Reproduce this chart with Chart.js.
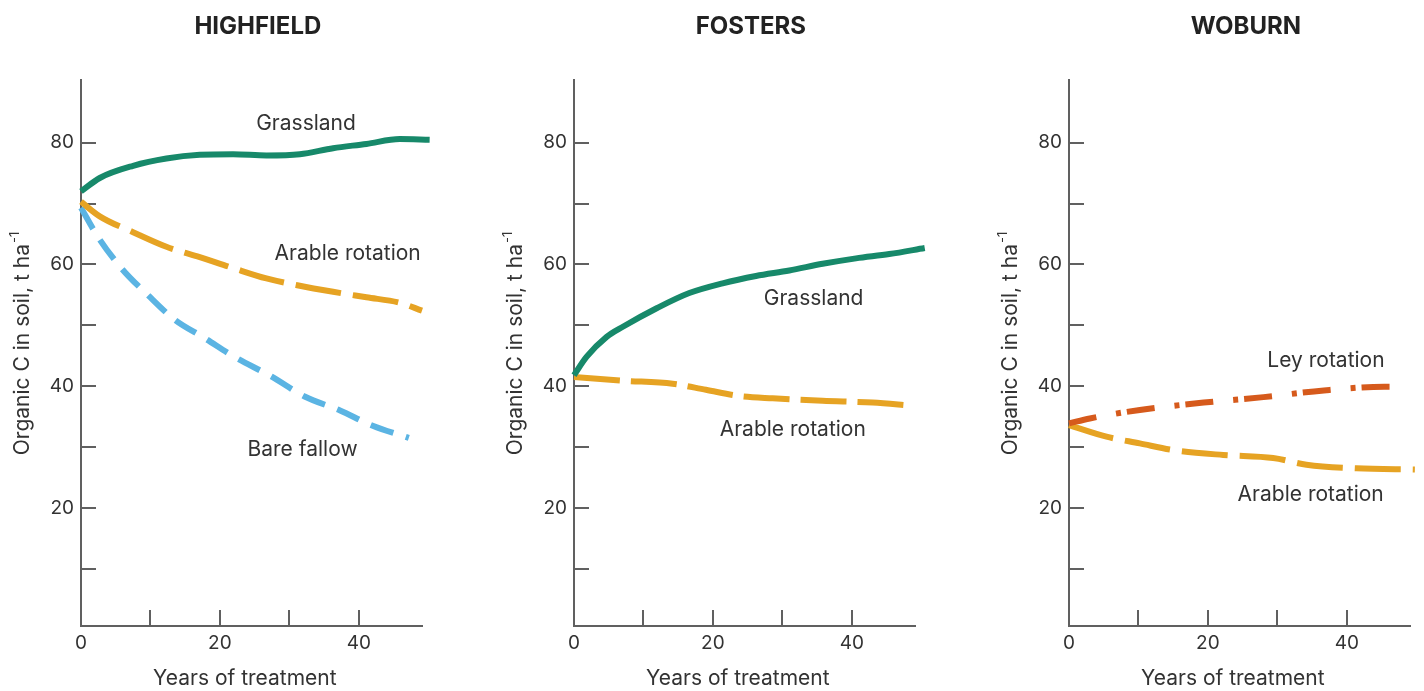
<!DOCTYPE html>
<html>
<head>
<meta charset="utf-8">
<script src="https://cdn.jsdelivr.net/npm/chart.js@4.4.1/dist/chart.umd.min.js"></script>
<style>
  html, body { margin: 0; padding: 0; background: #fff; overflow: hidden; width: 1424px; height: 691px; }
  .panel { position: absolute; top: 0; height: 691px; }
</style>
</head>
<body>
<div class="panel" style="left:0;width:460px"><canvas id="highfield"></canvas></div>
<div class="panel" style="left:493px;width:460px"><canvas id="fosters"></canvas></div>
<div class="panel" style="left:988px;width:436px"><canvas id="woburn"></canvas></div>
<script>
// values (years of treatment, organic C t/ha)
var highGrassYears = [0, 2.7, 7.5, 12.3, 17.1, 21.9, 26.7, 31.5, 36.3, 41.1, 45.9, 50.2];
var highGrassC     = [72.0, 74.2, 76.2, 77.4, 78.0, 78.1, 77.9, 78.1, 79.1, 79.8, 80.6, 80.5];
var highArableYears = [0, 2.7, 7.5, 12.3, 17.1, 21.9, 26.7, 31.5, 36.3, 41.1, 45.9, 49.1];
var highArableC     = [70.3, 67.9, 65.3, 62.9, 61.2, 59.4, 57.7, 56.5, 55.5, 54.6, 53.7, 52.4];
var highFallowYears = [0, 2.4, 5.8, 9.6, 13.5, 17.8, 22.1, 27.4, 32.2, 37.3, 42.0, 47.2];
var highFallowC     = [69.3, 64.6, 59.4, 55.0, 50.9, 47.9, 44.8, 41.6, 38.3, 36.0, 33.5, 31.5];

var fosGrassYears = [0, 1.8, 4.7, 7.1, 11.9, 16.6, 21.4, 26.2, 31.0, 35.8, 40.6, 45.4, 50.5];
var fosGrassC     = [41.8, 44.8, 48.1, 49.8, 52.8, 55.3, 56.9, 58.1, 59.0, 60.1, 61.0, 61.7, 62.7];
var fosArableYears = [0, 7.1, 14.2, 19.0, 23.8, 28.6, 35.8, 43.0, 48.5];
var fosArableC     = [41.5, 40.9, 40.4, 39.4, 38.4, 38.0, 37.6, 37.3, 36.8];

var wobLeyYears = [0, 3.0, 10.2, 19.4, 28.0, 36.7, 45.4, 48.0];
var wobLeyC     = [33.9, 34.7, 36.1, 37.3, 38.2, 39.3, 39.9, 39.9];
var wobArableYears = [0, 5.4, 10.2, 15.0, 22.2, 29.4, 34.2, 41.4, 49.8];
var wobArableC     = [33.6, 31.7, 30.6, 29.5, 28.7, 28.2, 27.1, 26.5, 26.3];

var xTicks = [0, 10, 20, 30, 40];
var xTickLabels = ['0', '', '20', '', '40'];
var yTicks = [10, 20, 30, 40, 50, 60, 70, 80];
var yTickLabels = ['', '20', '', '40', '', '60', '', '80'];

var GREEN = '#17896a', ORANGE = '#e6a323', BLUE = '#5bb4e3', LEY = '#d65a1c';
var AXIS = '#606060', TEXT = '#333333';
var FONT = 'Inter, Lato, sans-serif';

function pts(xs, ys) {
    return xs.map((x, i) => ({ x: x, y: ys[i] }));
}

function line(label, xs, ys, color, dash) {
    return {
        label: label,
        data: pts(xs, ys),
        borderColor: color,
        borderWidth: 6,
        borderDash: dash || [],
        pointRadius: 0,
        tension: 0.4,
        cubicInterpolationMode: 'monotone',
        clip: false
    };
}

// inward tick marks, drawn at the scale's own pixel positions
const tickMarks = {
    id: 'tickMarks',
    beforeDatasetsDraw(chart) {
        const { ctx, chartArea: a, scales: { x, y } } = chart;
        ctx.save();
        ctx.strokeStyle = AXIS;
        ctx.lineWidth = 2;
        ctx.beginPath();
        yTicks.forEach(v => {
            const p = Math.round(y.getPixelForValue(v));
            ctx.moveTo(a.left, p); ctx.lineTo(a.left + 15, p);
        });
        xTicks.filter(v => v > 0).forEach(v => {
            const p = Math.round(x.getPixelForValue(v));
            ctx.moveTo(p, a.bottom); ctx.lineTo(p, a.bottom - 16);
        });
        ctx.stroke();
        ctx.restore();
    }
};

// panel title, axis titles and curve labels
const panelText = {
    id: 'panelText',
    afterDraw(chart, args, opts) {
        const { ctx, chartArea: a, scales: { x, y } } = chart;
        const mid = (a.left + a.right) / 2;
        ctx.save();
        ctx.fillStyle = TEXT;
        ctx.textAlign = 'center';
        ctx.textBaseline = 'middle';

        ctx.font = 'bold 24px ' + FONT;
        ctx.fillStyle = '#222';
        ctx.fillText(opts.title, mid + 6, 27);
        ctx.fillStyle = TEXT;

        ctx.font = '21px ' + FONT;
        ctx.textBaseline = 'alphabetic';
        ctx.fillText('Years of treatment', mid - 7, 685);
        ctx.textBaseline = 'middle';

        // rotated y title with superscript
        ctx.save();
        ctx.translate(a.left - 58, 344);
        ctx.rotate(-Math.PI / 2);
        const main = 'Organic C in soil, t ha';
        ctx.font = '21px ' + FONT;
        const w1 = ctx.measureText(main).width;
        ctx.font = '13px ' + FONT;
        const w2 = ctx.measureText('-1').width;
        const start = -(w1 + w2) / 2;
        ctx.textAlign = 'left';
        ctx.font = '21px ' + FONT;
        ctx.fillText(main, start, 0);
        ctx.font = '13px ' + FONT;
        ctx.fillText('-1', start + w1 + 1, -8);
        ctx.restore();

        ctx.font = '21px ' + FONT;
        opts.notes.forEach(n => {
            ctx.fillText(n.text, x.getPixelForValue(n.x), y.getPixelForValue(n.y));
        });
        ctx.restore();
    }
};

function makePanel(id, title, datasets, notes, rightPad) {
    return new Chart(document.getElementById(id), {
        type: 'line',
        data: { datasets: datasets },
        plugins: [tickMarks, panelText],
        options: {
            responsive: true,
            maintainAspectRatio: false,
            animation: false,
            layout: { padding: { top: 80, right: rightPad, left: 0, bottom: 0 } },
            plugins: {
                legend: { display: false },
                tooltip: { enabled: false },
                panelText: { title: title, notes: notes }
            },
            scales: {
                x: {
                    type: 'linear',
                    min: 0,
                    max: 49.2,
                    afterFit: s => { s.height = 65; },
                    afterBuildTicks: s => { s.ticks = xTicks.map(v => ({ value: v })); },
                    grid: { display: true, drawOnChartArea: false, drawTicks: false },
                    border: { color: AXIS, width: 2 },
                    ticks: {
                        color: TEXT,
                        padding: 6,
                        font: { family: FONT, size: 19 },
                        maxRotation: 0,
                        autoSkip: false,
                        callback: (v, i) => xTickLabels[i]
                    }
                },
                y: {
                    type: 'linear',
                    min: 0.6,
                    max: 90.3,
                    afterFit: s => { s.width = 81; },
                    afterBuildTicks: s => { s.ticks = yTicks.map(v => ({ value: v })); },
                    grid: { display: true, drawOnChartArea: false, drawTicks: false },
                    border: { color: AXIS, width: 2 },
                    ticks: {
                        color: TEXT,
                        padding: 7,
                        font: { family: FONT, size: 19 },
                        autoSkip: false,
                        callback: (v, i) => yTickLabels[i]
                    }
                }
            }
        }
    });
}

makePanel('highfield', 'HIGHFIELD', [
    line('Grassland', highGrassYears, highGrassC, GREEN),
    line('Arable rotation', highArableYears, highArableC, ORANGE, [46, 12]),
    line('Bare fallow', highFallowYears, highFallowC, BLUE, [24, 13])
], [
    { text: 'Grassland', x: 32.4, y: 83.2 },
    { text: 'Arable rotation', x: 38.4, y: 61.8 },
    { text: 'Bare fallow', x: 31.9, y: 29.5 }
], 37.3);

makePanel('fosters', 'FOSTERS', [
    line('Grassland', fosGrassYears, fosGrassC, GREEN),
    line('Arable rotation', fosArableYears, fosArableC, ORANGE, [46, 11])
], [
    { text: 'Grassland', x: 34.5, y: 54.4 },
    { text: 'Arable rotation', x: 31.5, y: 32.8 }
], 37.3);

makePanel('woburn', 'WOBURN', [
    line('Ley rotation', wobLeyYears, wobLeyC, LEY, [28, 20, 5, 6]),
    line('Arable rotation', wobArableYears, wobArableC, ORANGE, [46, 12])
], [
    { text: 'Ley rotation', x: 37.0, y: 44.2 },
    { text: 'Arable rotation', x: 34.8, y: 22.1 }
], 13.3);
</script>
</body>
</html>
